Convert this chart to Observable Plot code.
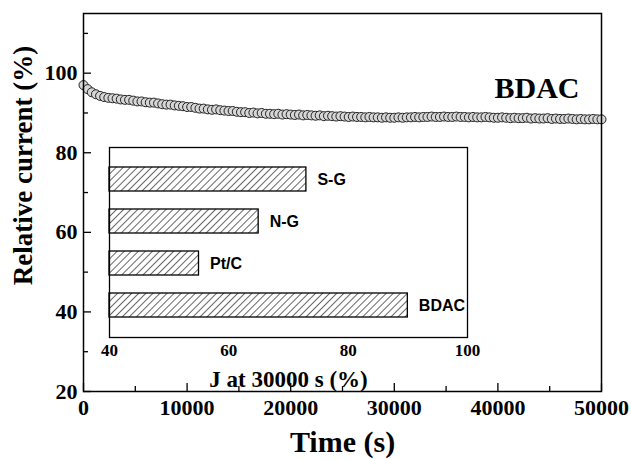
<!DOCTYPE html>
<html><head><meta charset="utf-8">
<script src="https://cdn.jsdelivr.net/npm/d3@7"></script>
<script src="https://cdn.jsdelivr.net/npm/@observablehq/plot@0.6"></script>
<style>
body{margin:0;background:#fff;}
#wrap{position:relative;width:631px;height:459px;background:#fff;}
#wrap svg{position:absolute;left:0;top:0;}
</style></head><body><div id="wrap"></div>
<script>
// ---- data ----
const timeS = [
0,400,800,1200,1600,2000,2400,2800,3200,3600,4000,4400,4800,5200,5600,6000,6400,6800,7200,7600,
8000,8400,8800,9200,9600,10000,10400,10800,11200,11600,12000,12400,12800,13200,13600,14000,14400,14800,15200,15600,
16000,16400,16800,17200,17600,18000,18400,18800,19200,19600,20000,20400,20800,21200,21600,22000,22400,22800,23200,23600,
24000,24400,24800,25200,25600,26000,26400,26800,27200,27600,28000,28400,28800,29200,29600,30000,30400,30800,31200,31600,
32000,32400,32800,33200,33600,34000,34400,34800,35200,35600,36000,36400,36800,37200,37600,38000,38400,38800,39200,39600,
40000,40400,40800,41200,41600,42000,42400,42800,43200,43600,44000,44400,44800,45200,45600,46000,46400,46800,47200,47600,
48000,48400,48800,49200,49600,50000];
const relCurrent = [
97.0,96.0,95.2,94.7,94.3,94.0,93.8,93.7,93.6,93.4,93.3,93.3,93.1,92.9,92.9,92.7,92.6,92.6,92.4,92.2,
92.1,92.1,91.9,91.8,91.7,91.5,91.5,91.3,91.1,91.1,90.9,90.8,90.9,90.7,90.6,90.5,90.5,90.3,90.2,90.2,
90.0,90.1,89.9,90.0,89.8,89.8,89.7,89.8,89.6,89.7,89.6,89.5,89.6,89.4,89.5,89.4,89.3,89.4,89.2,89.3,
89.2,89.1,89.2,89.1,89.0,89.1,89.0,89.0,88.9,89.0,88.9,88.9,88.8,88.9,88.8,88.8,88.9,88.8,88.9,88.9,
89.0,88.9,89.0,89.0,89.1,89.0,89.0,89.1,89.0,89.0,89.1,89.0,89.0,88.9,89.0,88.9,88.9,89.0,88.9,88.8,
88.8,88.9,88.8,88.7,88.8,88.7,88.7,88.8,88.6,88.7,88.6,88.6,88.7,88.5,88.6,88.5,88.5,88.6,88.5,88.4,
88.5,88.4,88.4,88.5,88.4,88.4];
const xDomain = [0, 50000];
const yDomain = [20, 115];
const xTicksMajor = [0, 10000, 20000, 30000, 40000, 50000];
const xTicksMinor = [5000, 15000, 25000, 35000, 45000];
const yTicksMajor = [20, 40, 60, 80, 100];
const yTicksMinor = [30, 50, 70, 90, 110];
const seriesLabel = "BDAC";
const xLabel = "Time (s)";
const yLabel = "Relative current (%)";

const insetCats = ["S-G", "N-G", "Pt/C", "BDAC"];
const insetVals = [73, 65, 55, 90];
const insetDomain = [40, 100];
const insetTicksMajor = [40, 60, 80, 100];
const insetTicksMinor = [50, 70, 90];
const insetLabel = "J at 30000 s (%)";

// ---- drawing ----
const serif = "'Liberation Serif','Times New Roman',serif";
const sans = "'Liberation Sans',Arial,sans-serif";
const W = 631, H = 459;
const M = {l: 83, r: 30, t: 13, b: 68};
const fw = W - M.l - M.r, fh = H - M.t - M.b;
const pts = timeS.map((t, i) => ({t, v: relCurrent[i]}));

const main = Plot.plot({
  width: W, height: H,
  marginLeft: M.l, marginRight: M.r, marginTop: M.t, marginBottom: M.b,
  style: {fontFamily: serif, background: "transparent", overflow: "visible"},
  x: {domain: xDomain, axis: null},
  y: {domain: yDomain, axis: null},
  marks: [
    Plot.tickX(xTicksMajor, {x: d => d, insetTop: fh - 8, stroke: "#000", strokeWidth: 1.3}),
    Plot.tickX(xTicksMinor, {x: d => d, insetTop: fh - 5, stroke: "#000", strokeWidth: 1.3}),
    Plot.tickY(yTicksMajor, {y: d => d, insetRight: fw - 8, stroke: "#000", strokeWidth: 1.3}),
    Plot.tickY(yTicksMinor, {y: d => d, insetRight: fw - 5, stroke: "#000", strokeWidth: 1.3}),
    Plot.axisX(xTicksMajor, {tickSize: 0, tickPadding: 8, fontSize: 22, fontWeight: "bold", fill: "#000", tickFormat: d => String(d), label: null}),
    Plot.axisY(yTicksMajor, {tickSize: 0, tickPadding: 6, fontSize: 22, fontWeight: "bold", fill: "#000", tickFormat: d => String(d), label: null}),
    Plot.dot(pts, {x: "t", y: "v", r: 4.5, fill: "#d6d6d6", stroke: "#222", strokeWidth: 1}),
    Plot.frame({stroke: "#000", strokeWidth: 1.5}),
    Plot.text([seriesLabel], {text: d => d, frameAnchor: "top-right", dx: -22, dy: 75, textAnchor: "end", lineAnchor: "middle", fontSize: 30, fontWeight: "bold", fill: "#000"}),
    Plot.text([xLabel], {text: d => d, frameAnchor: "bottom", dy: 51, lineAnchor: "middle", fontSize: 30, fontWeight: "bold", fill: "#000"}),
    Plot.text([yLabel], {text: d => d, frameAnchor: "left", dx: -60, dy: -37, rotate: -90, textAnchor: "middle", lineAnchor: "middle", fontSize: 27, fontWeight: "bold", fill: "#000"})
  ]
});
document.getElementById("wrap").appendChild(main);

// inset
const IM = {l: 109, r: 164, t: 147, b: 122};
const ifh = H - IM.t - IM.b;
const ibars = insetCats.map((c, i) => ({c, v: insetVals[i], base: insetDomain[0]}));
const inset = Plot.plot({
  width: W, height: H,
  marginLeft: IM.l, marginRight: IM.r, marginTop: IM.t, marginBottom: IM.b,
  style: {fontFamily: serif, background: "transparent", overflow: "visible"},
  x: {domain: insetDomain, axis: null},
  y: {domain: insetCats, axis: null, padding: 0.44},
  marks: [
    Plot.frame({fill: "#fff", stroke: "none"}),
    Plot.barX(ibars, {x1: "base", x2: "v", y: "c", fill: "url(#hatch)", stroke: "#000", strokeWidth: 1.3}),
    Plot.text(ibars, {x: "v", y: "c", text: "c", dx: 11, textAnchor: "start", fontFamily: sans, fontSize: 16, fontWeight: "bold", fill: "#000"}),
    Plot.ruleX(insetTicksMajor.concat(insetTicksMinor), {x: d => d, y1: null, insetTop: ifh - 4, stroke: "#000", strokeWidth: 1}),
    Plot.axisX(insetTicksMajor, {tickSize: 0, tickPadding: 6, fontSize: 17, fontWeight: "bold", fill: "#000", tickFormat: d => String(d), label: null}),
    Plot.text([insetLabel], {text: d => d, frameAnchor: "bottom", dy: 42, lineAnchor: "middle", fontSize: 23, fontWeight: "bold", fill: "#000"}),
    Plot.frame({stroke: "#000", strokeWidth: 1.3})
  ]
});
const defs = d3.select(inset).insert("defs", ":first-child");
const pat = defs.append("pattern").attr("id", "hatch").attr("patternUnits", "userSpaceOnUse")
  .attr("width", 5).attr("height", 5).attr("patternTransform", "rotate(45)");
pat.append("rect").attr("width", 5).attr("height", 5).attr("fill", "#fff");
pat.append("line").attr("x1", 0).attr("y1", 0).attr("x2", 0).attr("y2", 5).attr("stroke", "#000").attr("stroke-width", 1.2);
document.getElementById("wrap").appendChild(inset);
</script>
</body></html>
